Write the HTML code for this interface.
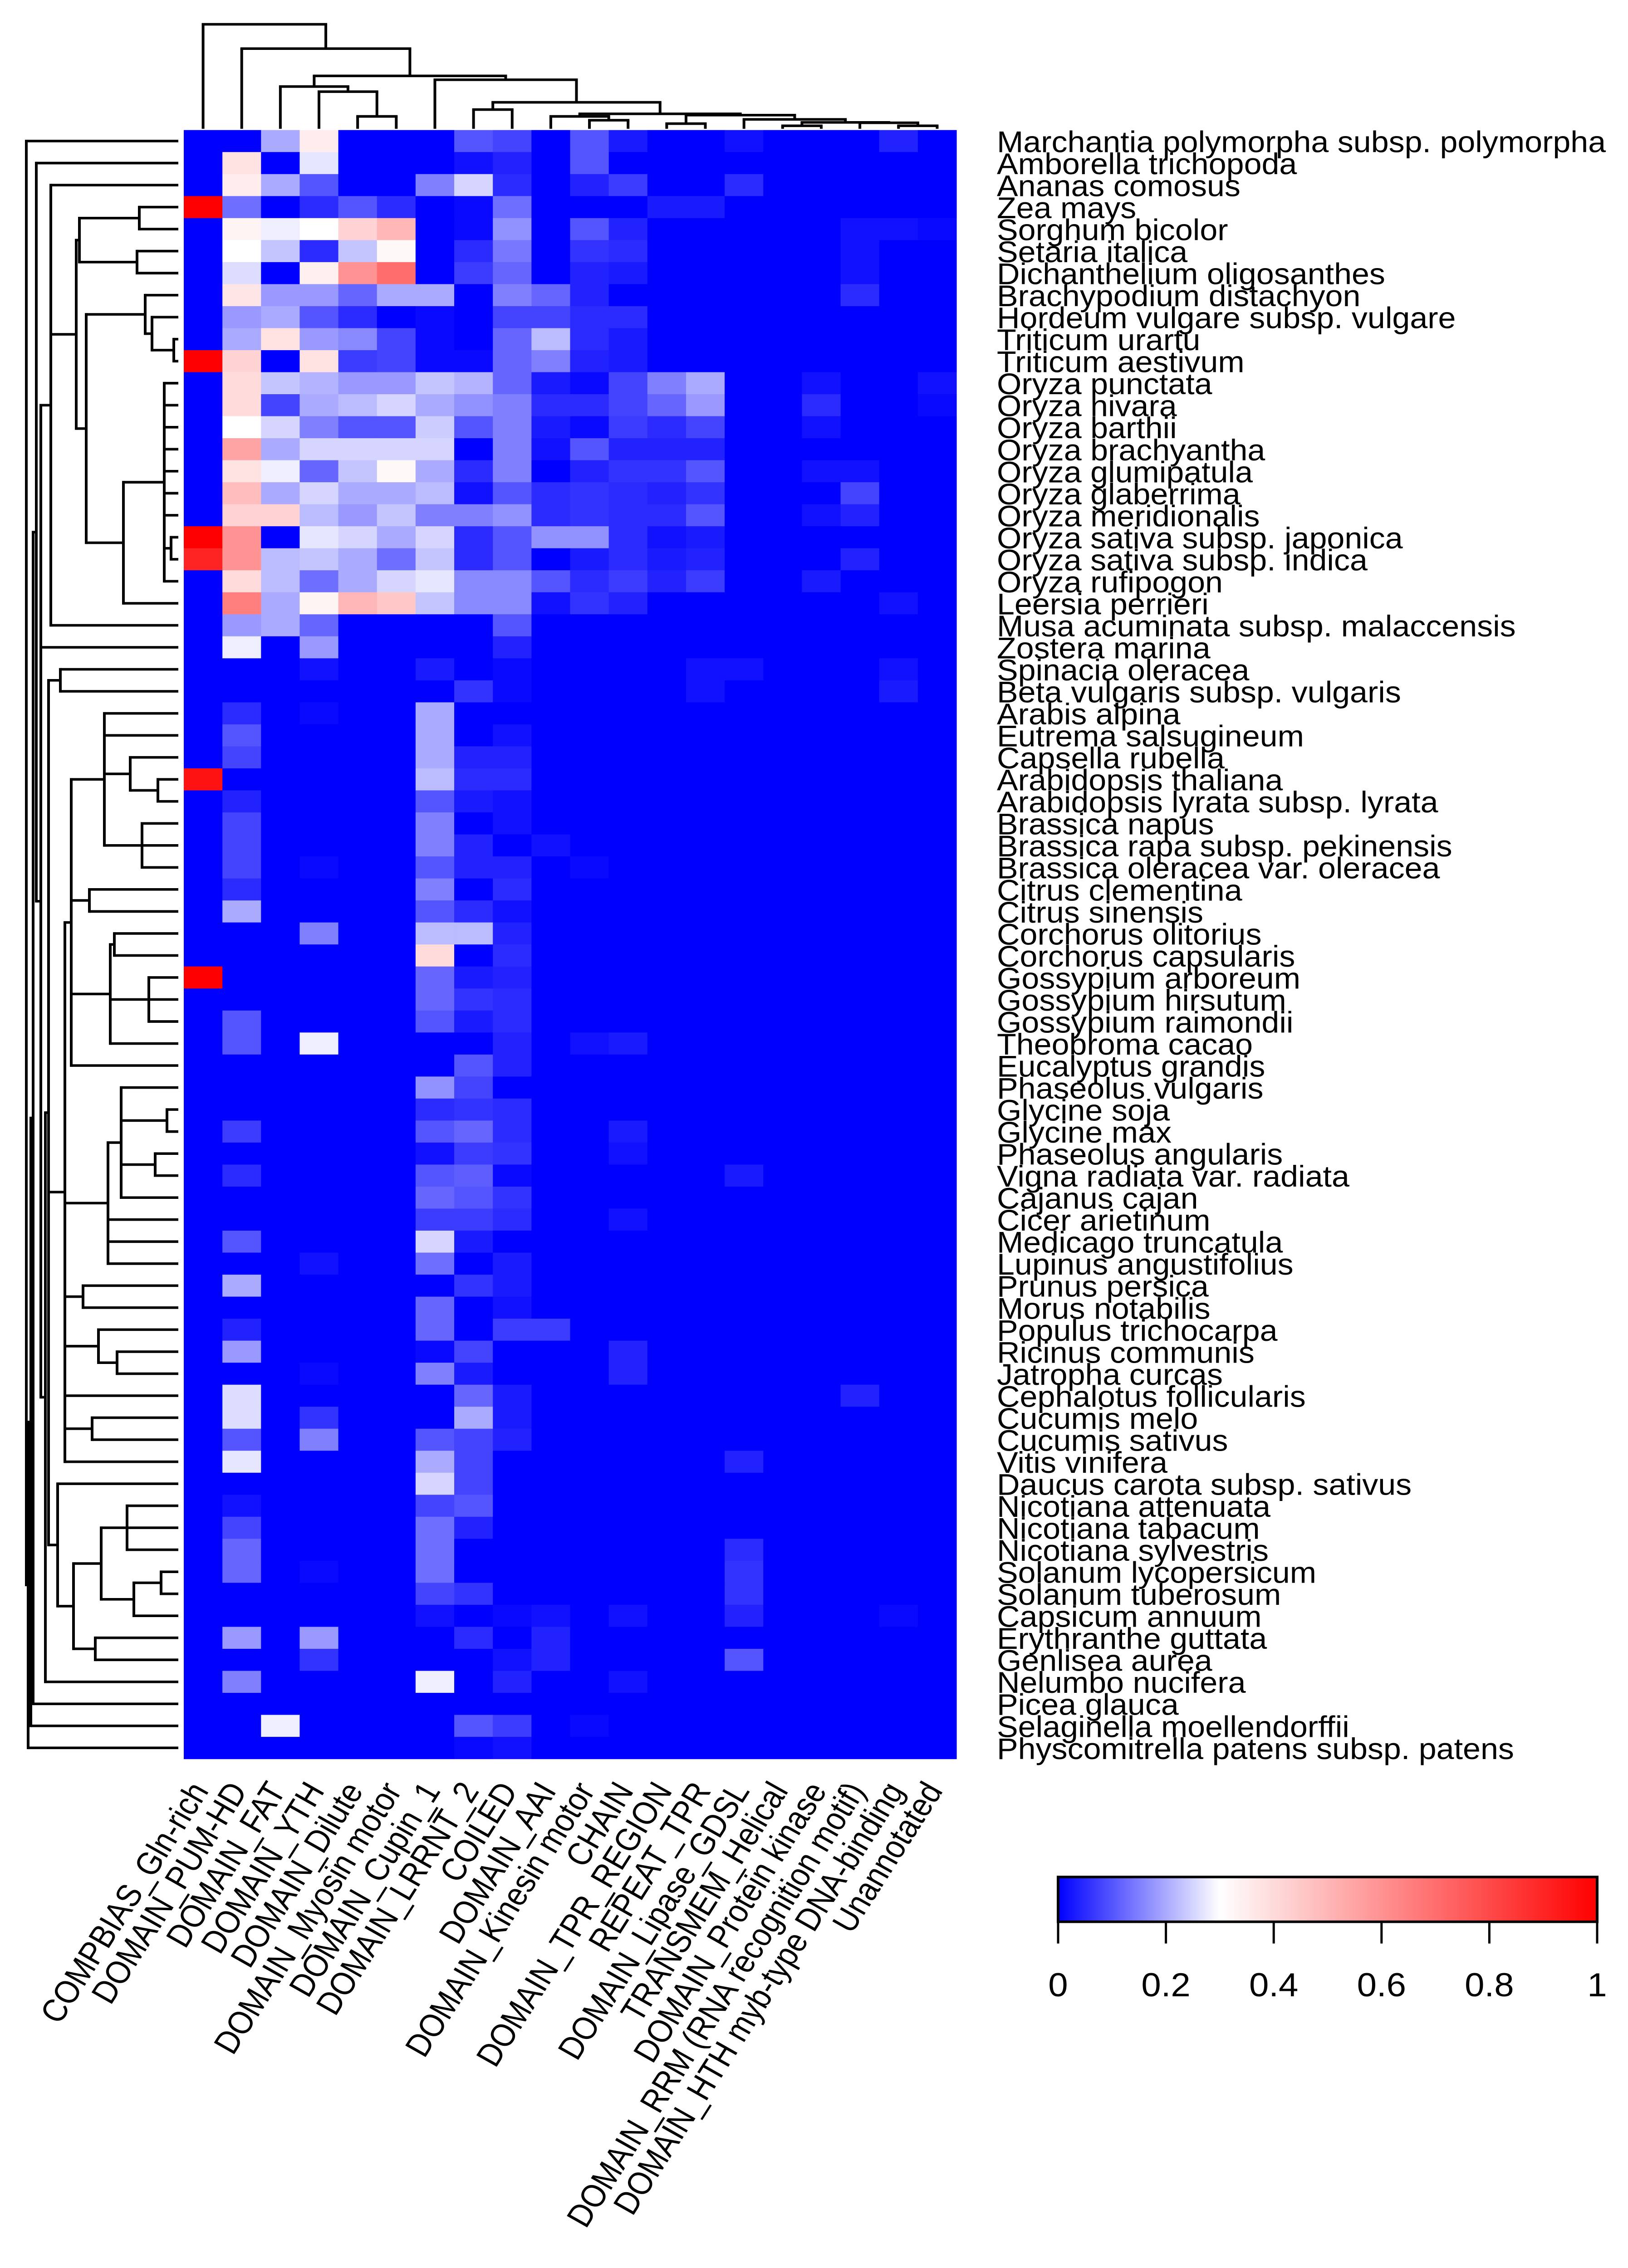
<!DOCTYPE html>
<html><head><meta charset="utf-8"><title>Heatmap</title>
<style>html,body{margin:0;padding:0;background:#fff;overflow:hidden;width:3588px;height:5000px}svg{display:block}text{font-family:"Liberation Sans",Arial,sans-serif;fill:#000}</style>
</head><body>
<svg id="chart" xmlns="http://www.w3.org/2000/svg" width="3588" height="5000" viewBox="0 0 3588 5319" preserveAspectRatio="none" overflow="hidden">
<rect width="3588" height="5319" fill="#fff"/>
<g id="cells"></g>
<g id="rowDendro"></g>
<g id="colDendro"></g>
<g id="rowLabels"></g>
<g id="colLabels"></g>
<g id="legend">
<defs><linearGradient id="grad" x1="0" x2="1" y1="0" y2="0"><stop offset="0" stop-color="#0000ff"/><stop offset="0.3" stop-color="#ffffff"/><stop offset="1" stop-color="#ff0000"/></linearGradient></defs>
<rect x="2332" y="4402" width="1188" height="105" fill="url(#grad)" stroke="#000" stroke-width="6"/>
</g>
</svg>
<script>
const rowNames=["Marchantia polymorpha subsp. polymorpha","Amborella trichopoda","Ananas comosus","Zea mays","Sorghum bicolor","Setaria italica","Dichanthelium oligosanthes","Brachypodium distachyon","Hordeum vulgare subsp. vulgare","Triticum urartu","Triticum aestivum","Oryza punctata","Oryza nivara","Oryza barthii","Oryza brachyantha","Oryza glumipatula","Oryza glaberrima","Oryza meridionalis","Oryza sativa subsp. japonica","Oryza sativa subsp. indica","Oryza rufipogon","Leersia perrieri","Musa acuminata subsp. malaccensis","Zostera marina","Spinacia oleracea","Beta vulgaris subsp. vulgaris","Arabis alpina","Eutrema salsugineum","Capsella rubella","Arabidopsis thaliana","Arabidopsis lyrata subsp. lyrata","Brassica napus","Brassica rapa subsp. pekinensis","Brassica oleracea var. oleracea","Citrus clementina","Citrus sinensis","Corchorus olitorius","Corchorus capsularis","Gossypium arboreum","Gossypium hirsutum","Gossypium raimondii","Theobroma cacao","Eucalyptus grandis","Phaseolus vulgaris","Glycine soja","Glycine max","Phaseolus angularis","Vigna radiata var. radiata","Cajanus cajan","Cicer arietinum","Medicago truncatula","Lupinus angustifolius","Prunus persica","Morus notabilis","Populus trichocarpa","Ricinus communis","Jatropha curcas","Cephalotus follicularis","Cucumis melo","Cucumis sativus","Vitis vinifera","Daucus carota subsp. sativus","Nicotiana attenuata","Nicotiana tabacum","Nicotiana sylvestris","Solanum lycopersicum","Solanum tuberosum","Capsicum annuum","Erythranthe guttata","Genlisea aurea","Nelumbo nucifera","Picea glauca","Selaginella moellendorffii","Physcomitrella patens subsp. patens"];
const colNames=["COMPBIAS_Gln-rich","DOMAIN_PUM-HD","DOMAIN_FAT","DOMAIN_YTH","DOMAIN_Dilute","DOMAIN_Myosin motor","DOMAIN_Cupin_1","DOMAIN_LRRNT_2","COILED","DOMAIN_AAI","DOMAIN_Kinesin motor","CHAIN","DOMAIN_TPR_REGION","REPEAT_TPR","DOMAIN_Lipase_GDSL","TRANSMEM_Helical","DOMAIN_Protein kinase","DOMAIN_RRM (RNA recognition motif)","DOMAIN_HTH myb-type DNA-binding","Unannotated"];
const values=[
[0,0,.2,.35,0,0,0,.1,.08,0,.1,.03,0,0,.02,0,0,0,.04,0],
[0,.38,0,.27,0,0,0,.02,.04,0,.1,0,0,0,0,0,0,0,0,0],
[0,.35,.2,.1,0,0,.15,.25,.05,0,.04,.07,0,0,.05,0,0,0,0,0],
[1,.13,0,.05,.1,.05,0,.01,.13,0,0,0,.03,.03,0,0,0,0,0,0],
[0,.33,.28,.3,.42,.5,0,.01,.17,0,.1,.04,0,0,0,0,0,.02,.02,.01],
[0,.3,.23,.05,.23,.32,0,.05,.14,0,.06,.05,0,0,0,0,0,.02,0,0],
[0,.26,0,.34,.6,.7,0,.07,.12,0,.04,.03,0,0,0,0,0,.02,0,0],
[0,.37,.18,.18,.12,.2,.2,0,.15,.12,.04,0,0,0,0,0,0,.05,0,0],
[0,.18,.2,.1,.05,0,.01,0,.08,.08,.05,.05,0,0,0,0,0,0,0,0],
[0,.2,.38,.18,.16,.08,.01,0,.12,.22,.05,.03,0,0,0,0,0,0,0,0],
[1,.42,0,.38,.07,.08,.01,.01,.12,.15,.04,.03,0,0,0,0,0,0,0,0],
[0,.4,.23,.21,.18,.18,.23,.21,.12,.03,.01,.08,.15,.2,0,0,.02,0,0,.02],
[0,.4,.08,.2,.22,.25,.2,.17,.15,.05,.05,.08,.12,.18,0,0,.05,0,0,.01],
[0,.3,.25,.15,.1,.1,.24,.1,.15,.03,.01,.07,.05,.08,0,0,.02,0,0,0],
[0,.55,.2,.25,.25,.25,.25,0,.15,.02,.1,.04,.04,.04,0,0,0,0,0,0],
[0,.38,.28,.12,.23,.32,.2,.05,.15,0,.04,.06,.06,.1,0,0,.02,.02,0,0],
[0,.48,.2,.25,.2,.2,.22,.02,.1,.05,.06,.05,.04,.06,0,0,0,.08,0,0],
[0,.42,.42,.22,.18,.23,.15,.15,.17,.05,.06,.05,.05,.1,0,0,.02,.04,0,0],
[1,.6,0,.27,.25,.2,.25,.05,.1,.17,.17,.05,.02,.03,0,0,0,0,0,0],
[.9,.6,.22,.23,.2,.13,.23,.05,.1,0,.03,.05,.03,.04,0,0,0,.04,0,0],
[0,.4,.22,.13,.2,.25,.27,.16,.16,.1,.05,.07,.04,.07,0,0,.03,0,0,0],
[0,.65,.2,.33,.5,.45,.23,.16,.16,.02,.06,.04,0,0,0,0,0,0,.02,0],
[0,.18,.2,.12,0,0,0,0,.1,0,0,0,0,0,0,0,0,0,0,0],
[0,.28,0,.18,0,0,0,0,.04,0,0,0,0,0,0,0,0,0,0,0],
[0,0,0,.02,0,0,.03,0,.01,0,0,0,0,.02,.02,0,0,0,.02,0],
[0,0,0,0,0,0,0,.06,.01,0,0,0,0,.02,0,0,0,0,.03,0],
[0,.05,0,.01,0,0,.2,0,0,0,0,0,0,0,0,0,0,0,0,0],
[0,.1,0,0,0,0,.2,0,.02,0,0,0,0,0,0,0,0,0,0,0],
[0,.08,0,0,0,0,.2,.04,.04,0,0,0,0,0,0,0,0,0,0,0],
[.95,0,0,0,0,0,.22,.05,.05,0,0,0,0,0,0,0,0,0,0,0],
[0,.04,0,0,0,0,.1,.03,.02,0,0,0,0,0,0,0,0,0,0,0],
[0,.08,0,0,0,0,.15,0,.02,0,0,0,0,0,0,0,0,0,0,0],
[0,.08,0,0,0,0,.15,.04,0,.02,0,0,0,0,0,0,0,0,0,0],
[0,.08,0,.01,0,0,.1,.04,.04,0,.01,0,0,0,0,0,0,0,0,0],
[0,.05,0,0,0,0,.15,0,.05,0,0,0,0,0,0,0,0,0,0,0],
[0,.2,0,0,0,0,.1,.05,.02,0,0,0,0,0,0,0,0,0,0,0],
[0,0,0,.15,0,0,.22,.22,.04,0,0,0,0,0,0,0,0,0,0,0],
[0,0,0,0,0,0,.4,0,.05,0,0,0,0,0,0,0,0,0,0,0],
[1,0,0,0,0,0,.12,.03,.04,0,0,0,0,0,0,0,0,0,0,0],
[0,0,0,0,0,0,.12,.06,.05,0,0,0,0,0,0,0,0,0,0,0],
[0,.1,0,0,0,0,.1,.03,.05,0,0,0,0,0,0,0,0,0,0,0],
[0,.1,0,.28,0,0,0,0,.04,0,.02,.03,0,0,0,0,0,0,0,0],
[0,0,0,0,0,0,0,.1,.04,0,0,0,0,0,0,0,0,0,0,0],
[0,0,0,0,0,0,.17,.08,0,0,0,0,0,0,0,0,0,0,0,0],
[0,0,0,0,0,0,.05,.06,.05,0,0,0,0,0,0,0,0,0,0,0],
[0,.07,0,0,0,0,.1,.12,.05,0,0,.03,0,0,0,0,0,0,0,0],
[0,0,0,0,0,0,.02,.07,.06,0,0,.02,0,0,0,0,0,0,0,0],
[0,.05,0,0,0,0,.1,.11,.01,0,0,0,0,0,.03,0,0,0,0,0],
[0,0,0,0,0,0,.12,.1,.06,0,0,0,0,0,0,0,0,0,0,0],
[0,0,0,0,0,0,.07,.07,.05,0,0,.02,0,0,0,0,0,0,0,0],
[0,.1,0,0,0,0,.25,.03,0,0,0,0,0,0,0,0,0,0,0,0],
[0,0,0,.02,0,0,.13,0,.03,0,0,0,0,0,0,0,0,0,0,0],
[0,.2,0,0,0,0,0,.06,.03,0,0,0,0,0,0,0,0,0,0,0],
[0,0,0,0,0,0,.12,0,.02,0,0,0,0,0,0,0,0,0,0,0],
[0,.04,0,0,0,0,.12,0,.07,.07,0,0,0,0,0,0,0,0,0,0],
[0,.18,0,0,0,0,.01,.08,0,0,0,.04,0,0,0,0,0,0,0,0],
[0,0,0,.01,0,0,.15,.03,0,0,0,.04,0,0,0,0,0,0,0,0],
[0,.26,0,0,0,0,0,.12,.03,0,0,0,0,0,0,0,0,.04,0,0],
[0,.26,0,.06,0,0,0,.2,.03,0,0,0,0,0,0,0,0,0,0,0],
[0,.1,0,.15,0,0,.1,.08,.04,0,0,0,0,0,0,0,0,0,0,0],
[0,.27,0,0,0,0,.2,.08,0,0,0,0,0,0,.04,0,0,0,0,0],
[0,0,0,0,0,0,.25,.08,0,0,0,0,0,0,0,0,0,0,0,0],
[0,.02,0,0,0,0,.08,.1,0,0,0,0,0,0,0,0,0,0,0,0],
[0,.08,0,0,0,0,.13,.04,0,0,0,0,0,0,0,0,0,0,0,0],
[0,.12,0,0,0,0,.13,0,0,0,0,0,0,0,.05,0,0,0,0,0],
[0,.12,0,.01,0,0,.13,0,0,0,0,0,0,0,.06,0,0,0,0,0],
[0,0,0,0,0,0,.08,.06,0,0,0,0,0,0,.06,0,0,0,0,0],
[0,0,0,0,0,0,.02,0,.01,.02,0,.02,0,0,.04,0,0,0,.01,0],
[0,.18,0,.18,0,0,0,.05,0,.04,0,0,0,0,0,0,0,0,0,0],
[0,0,0,.06,0,0,0,0,.02,.04,0,0,0,0,.1,0,0,0,0,0],
[0,.15,0,0,0,0,.28,0,.04,0,0,.02,0,0,0,0,0,0,0,0],
[0,0,0,0,0,0,0,0,0,0,0,0,0,0,0,0,0,0,0,0],
[0,0,.28,0,0,0,0,.1,.07,0,.01,0,0,0,0,0,0,0,0,0],
[0,0,0,0,0,0,0,.01,.02,0,0,0,0,0,0,0,0,0,0,0]
];
const keyTicks=[0,0.2,0.4,0.6,0.8,1];
const keyTickLabels=["0","0.2","0.4","0.6","0.8","1"];

const NS="http://www.w3.org/2000/svg";
const HX0=405,HX1=2108,HY0=305,HY1=4125;
const cw=(HX1-HX0)/colNames.length, rh=(HY1-HY0)/rowNames.length;
const xCol=i=>HX0+i*cw, yRow=r=>HY0+r*rh;
function col(v){let r,g,b;if(v<=0.3){const t=v/0.3;r=g=Math.round(255*t);b=255;}else{const t=Math.min(1,(v-0.3)/0.7);r=255;g=b=Math.round(255*(1-t));}return `rgb(${r},${g},${b})`;}
function mk(tag,attrs,parent){const e=document.createElementNS(NS,tag);for(const k in attrs)e.setAttribute(k,attrs[k]);parent.appendChild(e);return e;}

const cells=document.getElementById('cells');
values.forEach((row,r)=>row.forEach((v,c)=>{
  const e=mk('rect',{x:xCol(c),y:yRow(r),width:cw+0.6,height:rh+0.6,fill:col(v)},cells);
  
  
}));

const rl=document.getElementById('rowLabels');
rowNames.forEach((n,r)=>{
  const t=mk('text',{x:2197,y:yRow(r)+rh/2+26,'font-size':70},rl);
  t.textContent=n;
  
  
});
const cl=document.getElementById('colLabels');
const colTexts=[];
colNames.forEach((n,c)=>{
  const t=mk('text',{x:0,y:0,'font-size':76,'text-anchor':'end'},cl);
  t.textContent=n;
  
  
  colTexts.push(t);
});
let maxLen=0;
colTexts.forEach(t=>{let l=0;try{l=t.getComputedTextLength();}catch(e){}if(l>maxLen)maxLen=l;});
const sx=maxLen>0?1200/maxLen:0.8;
colTexts.forEach((t,c)=>{
  const x=xCol(c)+cw/2+14,y=4200;
  t.setAttribute('transform',`translate(${x} ${y}) rotate(-59) scale(${sx} 1)`);
});

function L(a,b){return {h:a,c:b};}
const G4=L(175,[L(307,[3,4]),L(302,[5,6])]);
const G6=L(320,[7,L(335,[8,L(383,[9,10])])]);
const G8=L(362,[11,12,13,14,15,16,17,L(377,[18,19]),20]);
const G3=L(168,[G4,L(190,[G6,L(272,[G8,21])])]);
const G2=L(112,[2,G3,22]);
const Ha=L(230,[26,27,L(287,[28,L(348,[29,30])]),L(313,[31,32,33])]);
const H4=L(243,[L(252,[36,37]),L(328,[38,39,40]),41]);
const H5=L(157,[Ha,L(197,[34,35]),H4,42]);
const H7=L(238,[L(267,[43,L(368,[44,45]),L(342,[46,47]),48]),49,50,51]);
const H6=L(143,[H5,H7,L(183,[52,53]),L(217,[54,L(258,[55,56])]),57,L(203,[58,59]),60]);
const H10=L(162,[L(223,[L(280,[62,63,64]),L(295,[L(355,[65,66]),67])]),L(210,[68,69])]);
const H8=L(107,[L(133,[24,25]),H6,L(127,[61,H10])]);
const rowTree=L(58,[0,L(62,[L(68,[L(73,[L(80,[1,L(90,[G2,23,L(100,[H8,70])])]),71]),72]),73])]);
const B9=L(287,[L(295,[15,16]),L(288,[17,L(295,[18,19])])]);
const B4=L(267,[L(273,[9,L(282,[10,11])]),L(270,[L(290,[12,13]),L(280,[14,B9])])]);
const colTree=L(57,[0,L(114,[1,L(178,[L(203,[2,L(215,[3,L(273,[4,5])])]),L(187,[6,L(240,[L(257,[7,8]),B4])])])])]);

function draw(node,leafPos,leafH,horiz,g){
  if(typeof node==='number') return {p:leafPos(node),h:leafH};
  const ch=node.c.map(k=>draw(k,leafPos,leafH,horiz,g));
  const h=node.h;
  ch.forEach(k=>{
    const a=horiz?{x1:k.h,y1:k.p,x2:h,y2:k.p}:{x1:k.p,y1:k.h,x2:k.p,y2:h};
    const e=mk('line',Object.assign(a,{stroke:'#000','stroke-width':6}),g);
    
    
  });
  const p0=ch[0].p,p1=ch[ch.length-1].p;
  const a=horiz?{x1:h,y1:p0,x2:h,y2:p1}:{x1:p0,y1:h,x2:p1,y2:h};
  const e=mk('line',Object.assign(a,{stroke:'#000','stroke-width':6,'stroke-linecap':'square'}),g);
  
  
  return {p:(p0+p1)/2,h:h};
}
draw(rowTree,r=>yRow(r)+rh/2,393,true,document.getElementById('rowDendro'));
draw(colTree,c=>xCol(c)+cw/2,302,false,document.getElementById('colDendro'));

const lg=document.getElementById('legend');
const kx=v=>2332+v*1188;
keyTicks.forEach((v,i)=>{
  const l=mk('line',{x1:kx(v),y1:4507,x2:kx(v),y2:4558,stroke:'#000','stroke-width':5},lg);
  
  
  const t=mk('text',{x:kx(v),y:4682,'font-size':78,'text-anchor':'middle'},lg);
  t.textContent=keyTickLabels[i];
  
  
});
</script>
</body></html>
